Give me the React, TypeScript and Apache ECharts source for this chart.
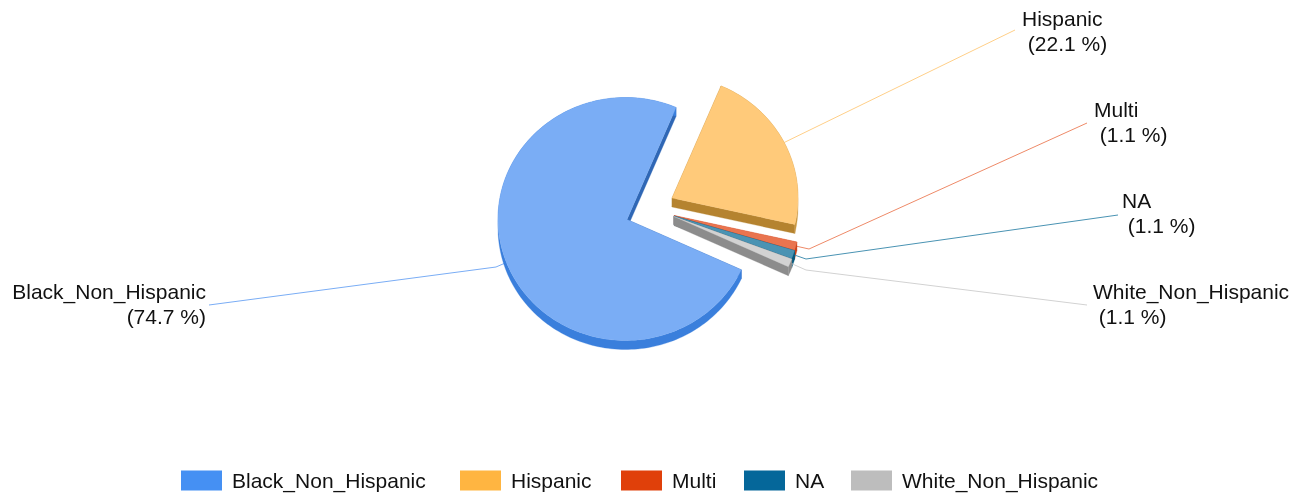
import React, { useEffect, useRef } from "react";
import * as echarts from "echarts";

const categories = ["Black_Non_Hispanic", "Hispanic", "Multi", "NA", "White_Non_Hispanic"];
const values = [74.7, 22.1, 1.1, 1.1, 1.1];
const percentLabels = ["74.7 %", "22.1 %", "1.1 %", "1.1 %", "1.1 %"];

const swatchColors = ["#4590F3", "#FFB541", "#E0400A", "#05679A", "#BDBDBD"];
const faceColors = ["#7AADF5", "#FFCA7A", "#E9744F", "#4A93B3", "#D2D2D2"];
const rimColors = ["#3A7FDC", "#C9973F", "#C8401A", "#05597F", "#8C8C8C"];
const edgeColors = ["#2F67B5", "#B5832F", "#C8401A", "#05597F", "#8C8C8C"];
const lineColors = ["#7AADF5", "#FFCF88", "#EE8A68", "#4A93B3", "#D2D2D2"];
const legendLeft = [176, 455, 616, 739, 846];

const CX = 627; // apex of the pie
const CY = 219.5;
const ARC_DX = -1.5; // the rim's centre sits slightly left of the apex
const ARC_DY = -0.5;
const RX = 127.5;
const RY = 121.5;
const DEPTH = 9;
const START_DEG = 114.7; // clockwise from 12 o'clock, where the first slice starts
const pullX = [0, 45, 47, 47, 47];
const pullY = [0, -21.5, -4, -3.5, -3];
const labelAnchor = [
  { x: 206, y: 304, align: "right", end: [209, 305], elbow: [496, 267] },
  { x: 1022, y: 31, align: "left", end: [1015, 30], elbow: null },
  { x: 1094, y: 122, align: "left", end: [1087, 123], elbow: [809, 249] },
  { x: 1122, y: 213, align: "left", end: [1118, 215], elbow: [806, 259] },
  { x: 1093, y: 304, align: "left", end: [1087, 305], elbow: [806, 270] },
];
const FONT = '21px "Liberation Sans", Arial, sans-serif';

const total = values.reduce((a, b) => a + b, 0);

function arcPoints(cx: number, cy: number, a0: number, a1: number) {
  const pts: number[][] = [];
  const n = Math.max(2, Math.ceil(Math.abs(a1 - a0) / 1.5));
  for (let i = 0; i <= n; i++) {
    const a = ((a0 + ((a1 - a0) * i) / n) * Math.PI) / 180;
    pts.push([cx + ARC_DX + RX * Math.sin(a), cy + ARC_DY - RY * Math.cos(a)]);
  }
  return pts;
}

function sliceItem(idx: number) {
  return (_params: any, api: any) => {
    const v = api.value(0);
    let before = 0;
    for (let i = 0; i < idx; i++) before += values[i];
    const a0 = START_DEG + (before / total) * 360;
    const a1 = a0 + (v / total) * 360;
    const cx = CX + pullX[idx];
    const cy = CY + pullY[idx];
    const arc = arcPoints(cx, cy, a0, a1);
    const down = arc.map((p) => [p[0], p[1] + DEPTH]).reverse();
    const first = arc[0];
    const last = arc[arc.length - 1];
    const mid = arcPoints(cx, cy, (a0 + a1) / 2, (a0 + a1) / 2)[0];
    const la = labelAnchor[idx];
    const linePts: number[][] = [mid];
    if (la.elbow) linePts.push(la.elbow);
    linePts.push(la.end);
    const quad = (p: number[]) => [[cx, cy], p, [p[0], p[1] + DEPTH], [cx, cy + DEPTH]];
    const poly = (points: number[][], fill: string) => ({
      type: "polygon",
      shape: { points },
      style: { fill, stroke: fill, lineWidth: 0.3 },
    });
    return {
      type: "group",
      children: [
        { type: "polyline", shape: { points: linePts }, style: { stroke: lineColors[idx], lineWidth: 1, fill: "none" } },
        poly(quad(first), edgeColors[idx]),
        poly(quad(last), edgeColors[idx]),
        poly([...arc, ...down], rimColors[idx]),
        poly([[cx, cy], ...arc], faceColors[idx]),
        {
          type: "text",
          x: la.x,
          y: la.y,
          style: {
            text: categories[idx] + "\n (" + percentLabels[idx] + ")",
            font: FONT,
            fill: "#111111",
            align: la.align,
            verticalAlign: "middle",
            lineHeight: 25,
          },
        },
      ],
    };
  };
}

export default function App() {
  const ref = useRef<HTMLDivElement>(null);
  useEffect(() => {
    if (!ref.current) return;
    const chart = echarts.init(ref.current, undefined, { renderer: "svg" });
    chart.setOption({
      animation: false,
      color: swatchColors,
      legend: categories.map((name, i) => ({
        data: [name],
        left: legendLeft[i],
        top: 465,
        icon: "rect",
        itemWidth: 41,
        itemHeight: 20,
        selectedMode: false,
        textStyle: { fontFamily: '"Liberation Sans", Arial, sans-serif', fontSize: 21, color: "#111111", padding: [0, 0, 2, 5] },
      })),
      series: categories.map((name, i) => ({
        type: "custom",
        name,
        coordinateSystem: "none",
        renderItem: sliceItem(i),
        data: [[values[i]]],
        itemStyle: { color: swatchColors[i] },
        silent: true,
      })),
    });
    return () => chart.dispose();
  }, []);
  return <div ref={ref} style={{ position: "fixed", left: 0, top: 0, width: 1293, height: 499 }} />;
}
